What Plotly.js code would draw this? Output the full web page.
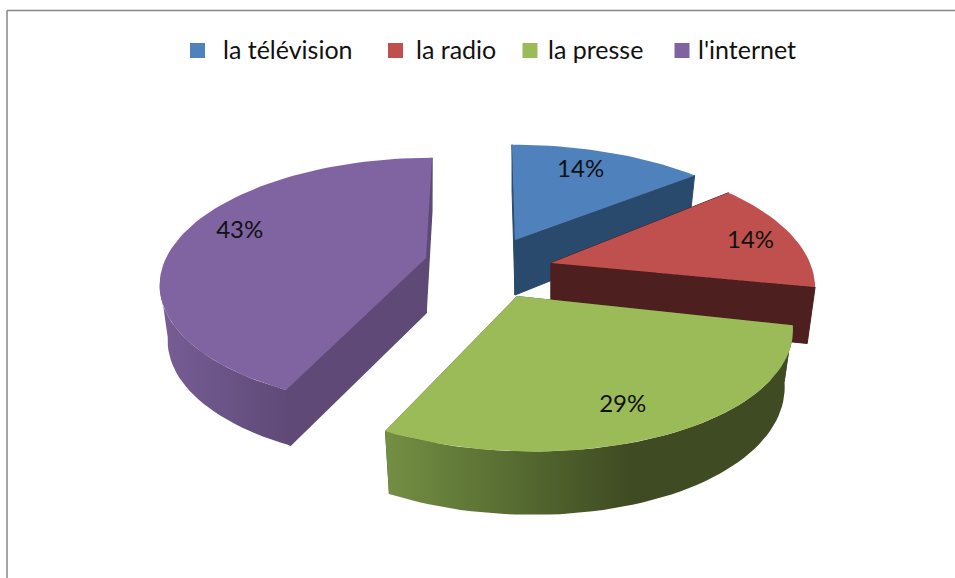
<!DOCTYPE html>
<html><head><meta charset="utf-8">
<script src="https://cdn.plot.ly/plotly-3.0.1.min.js"></script>
<style>html,body{margin:0;padding:0;background:#fff}#c{width:955px;height:578px}</style>
</head><body><div id="c"></div>
<script>
const categories = ["la télévision", "la radio", "la presse", "l'internet"];
const values = [14, 14, 29, 43];
const topColors = ["#4f81bd", "#bf504d", "#9bbb59", "#8064a2"];
const sideColors = ["#2a4a6d", "#4d1f1e", "#3f4b22", "#5e4977"];
const rimScales = [
  [[0,"#2a4a6d"],[1,"#2a4a6d"]],
  [[0,"#4d1f1e"],[1,"#4d1f1e"]],
  [[0,"#748f44"],[0.33,"#556a30"],[0.6,"#3f4b22"],[1,"#3f4b22"]],
  [[0,"#775e96"],[1,"#5e4977"]]
];
// explosion and per-slice perspective fit: where each slice sits on the page
const apexX = [515, 551, 517, 426];
const apexY = [240, 263, 296, 258];
const radiusX = [265, 259, 269, 260];
const radiusY = [114, 124, 125, 120];
const lean  = [-3, 0, -8, 6];
const tilt  = [0, 0, 5, 0];
const depthGrow = [11, 11, 13, 5];
const faceLine = [1, 1, 0, 1.5];
const labelFrac = [0.78, 0.78, 0.72, 0.72];
const labelNudgeX = [-7, 13, -6, -12];
const labelNudgeY = [-1, 2, 11, -8];
const legendMarkX = [197.5, 395.5, 530, 682];
const legendTextX = [223, 416, 548, 698];
const legendY = 50.5;
const legendTextY = 52.5;

const K = 0.196, BOTTOM = 0.97, D0 = 55, RIM_FROM = 101, RIM_TO = 259;
const total = values.reduce((a, b) => a + b, 0);

function topPt(i, deg, f) {
  const t = deg * Math.PI / 180, X = Math.sin(t), Y = Math.cos(t), w = 1 + K * Y;
  return [apexX[i] + f * (radiusX[i] * X / w + lean[i] * Y), apexY[i] + f * (tilt[i] * X - radiusY[i] * Y / w)];
}
function lowPt(i, deg, f) {
  const p = topPt(i, deg, f), Y = Math.cos(deg * Math.PI / 180) * f;
  return [apexX[i] + BOTTOM * (p[0] - apexX[i]), apexY[i] + BOTTOM * (p[1] - apexY[i]) + D0 - depthGrow[i] * Y];
}
function arc(fn, i, a, b) {
  const pts = [], n = Math.max(2, Math.ceil((b - a) / 2));
  for (let j = 0; j <= n; j++) pts.push(fn(i, a + (b - a) * j / n, 1));
  return pts;
}
function poly(pts, color, scale, lw) {
  const tr = {type: "scatter", mode: "lines", x: pts.map(p => p[0]).concat(pts[0][0]),
    y: pts.map(p => p[1]).concat(pts[0][1]), fill: "toself", line: {width: lw || 0, color: color},
    fillcolor: color, hoverinfo: "skip", showlegend: false};
  if (scale) tr.fillgradient = {type: "horizontal", colorscale: scale};
  return tr;
}
const traces = [];
const labX = [], labY = [], labT = [];
let acc = 0;
values.forEach((v, i) => {
  const a = acc / total * 360, b = (acc + v) / total * 360;
  acc += v;
  const A = [apexX[i], apexY[i]], L = [apexX[i], apexY[i] + D0];
  traces.push(poly([A, topPt(i, a, 1), lowPt(i, a, 1), L], sideColors[i], null, faceLine[i]));
  traces.push(poly([A, topPt(i, b, 1), lowPt(i, b, 1), L], sideColors[i], null, faceLine[i]));
  const ra = Math.max(a, RIM_FROM), rb = Math.min(b, RIM_TO);
  if (rb > ra) traces.push(poly(arc(topPt, i, ra, rb).concat(arc(lowPt, i, ra, rb).reverse()), sideColors[i], rimScales[i]));
  traces.push(poly([A].concat(arc(topPt, i, a, b)), topColors[i]));
  const m = topPt(i, (a + b) / 2, labelFrac[i]);
  labX.push(m[0] + labelNudgeX[i]); labY.push(m[1] + labelNudgeY[i]); labT.push(v + "%");
});
const font = "Lato, 'Noto Sans', sans-serif";
traces.push({type: "scatter", mode: "text", x: labX, y: labY, text: labT, textposition: "middle center",
  textfont: {family: font, size: 24, color: "#111"}, hoverinfo: "skip", showlegend: false});
traces.push({type: "scatter", mode: "markers", x: legendMarkX, y: categories.map(() => legendY),
  marker: {symbol: "square", size: 15, color: topColors, line: {width: 0}}, hoverinfo: "skip", showlegend: false});
traces.push({type: "scatter", mode: "text", x: legendTextX, y: categories.map(() => legendTextY), text: categories,
  textposition: "middle right", textfont: {family: font, size: 25, color: "#111"}, hoverinfo: "skip", showlegend: false});

const layout = {
  width: 955, height: 578, margin: {l: 0, r: 0, t: 0, b: 0},
  paper_bgcolor: "#fff", plot_bgcolor: "#fff", showlegend: false,
  xaxis: {range: [0, 955], visible: false, fixedrange: true},
  yaxis: {range: [578, 0], visible: false, fixedrange: true},
  shapes: [
    {type: "line", xref: "paper", yref: "paper", x0: 7/955, x1: 7/955, y0: 0, y1: 1-10.5/578, line: {color: "#868686", width: 1.5}},
    {type: "line", xref: "paper", yref: "paper", x0: 7/955, x1: 1, y0: 1-10.5/578, y1: 1-10.5/578, line: {color: "#868686", width: 1.5}}
  ]
};
Plotly.newPlot("c", traces, layout, {displayModeBar: false, staticPlot: true});
</script></body></html>
